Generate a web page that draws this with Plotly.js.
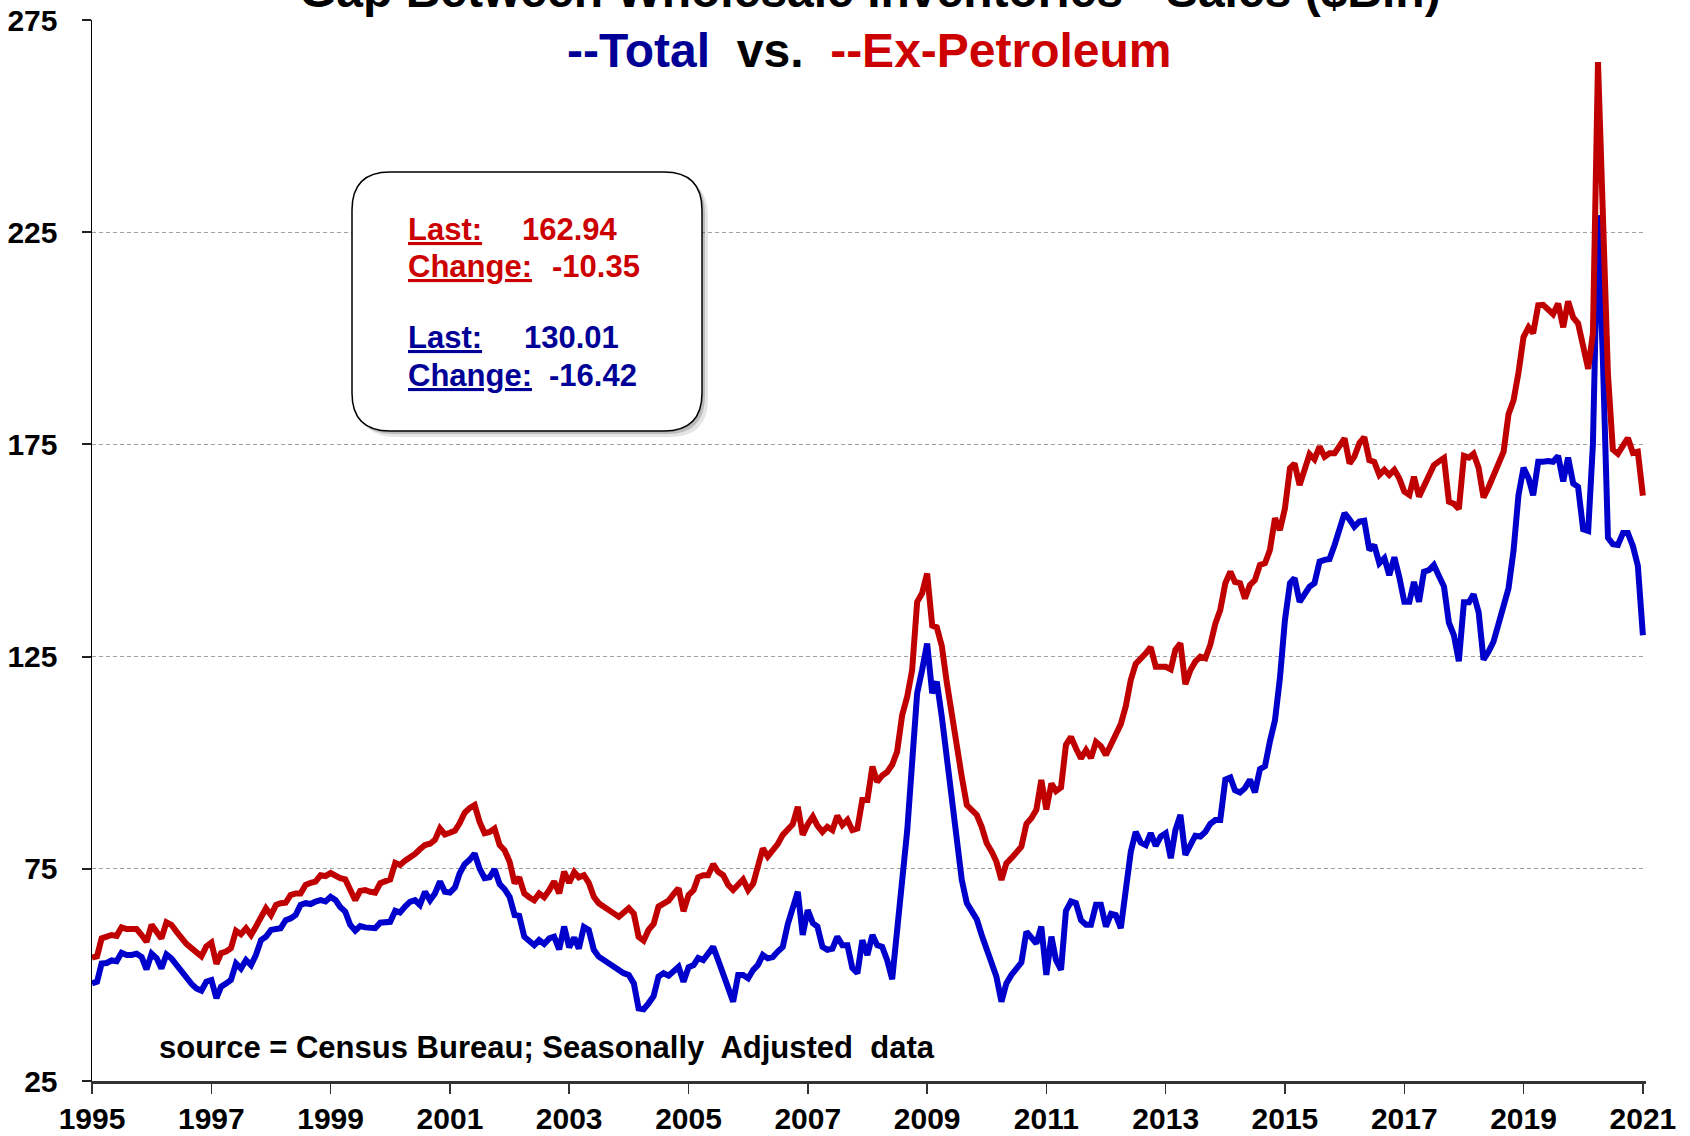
<!DOCTYPE html>
<html>
<head>
<meta charset="utf-8">
<script src="https://cdn.plot.ly/plotly-3.0.1.min.js"></script>
<style>html,body{margin:0;padding:0;background:#fff}#chart{width:1690px;height:1136px}</style>
</head>
<body>
<div id="chart"></div>
<script>
// ---- data (monthly, starting Jan 1995, $Bln) ----
const startYear = 1995;

const exPetroleum = [
  54.1, 54.4, 58.6, 59.0, 59.4, 59.2, 61.2, 60.8, 60.8, 60.8, 59.4, 57.8,   // 1995
  61.8, 60.2, 58.6, 62.4, 61.8, 60.2, 58.6, 57.3, 56.3, 55.5, 54.4, 56.7,   // 1996
  57.6, 52.6, 55.1, 55.5, 56.3, 60.4, 59.6, 61.0, 59.4, 61.4, 63.7, 65.7,   // 1997
  64.1, 66.5, 66.9, 67.0, 68.8, 69.2, 69.2, 71.2, 71.7, 72.0, 73.5, 73.3,   // 1998
  74.0, 73.3, 72.8, 72.5, 70.0, 67.6, 69.8, 70.0, 69.6, 69.4, 71.6, 72.0,   // 1999
  72.5, 76.4, 75.9, 76.9, 77.5, 78.5, 79.6, 80.6, 80.9, 81.8, 84.5, 83.1,   // 2000
  83.5, 84.0, 85.7, 88.2, 89.3, 90.0, 86.1, 83.4, 83.7, 84.5, 80.6, 79.4,   // 2001
  76.7, 71.6, 73.0, 69.2, 68.3, 67.6, 69.2, 68.3, 70.0, 72.0, 69.2, 74.3,   // 2002
  71.7, 74.2, 73.0, 73.5, 71.7, 68.4, 66.9, 66.2, 65.3, 64.5, 63.7, 64.5,   // 2003
  65.7, 64.4, 59.0, 58.1, 60.6, 62.0, 66.1, 66.8, 67.5, 69.0, 70.4, 65.0,   // 2004
  68.8, 70.0, 73.0, 73.5, 73.5, 76.1, 74.3, 73.5, 71.2, 70.0, 71.4, 72.5,   // 2005
  70.0, 71.5, 75.5, 79.8, 77.9, 79.5, 80.8, 83.0, 84.1, 85.5, 89.6, 83.0,   // 2006
  85.5, 87.3, 85.2, 83.7, 84.9, 84.1, 87.5, 85.3, 86.5, 84.1, 84.5, 91.2,   // 2007
  91.2, 99.1, 95.5, 97.0, 97.8, 99.5, 102.6, 111.2, 115.6, 121.8, 137.9, 139.9, // 2008
  144.6, 132.3, 131.9, 127.5, 119.0, 110.8, 103.0, 96.7, 90.0, 88.9, 87.7, 84.9, // 2009
  81.0, 79.0, 76.7, 72.4, 76.3, 77.5, 78.9, 80.2, 85.6, 86.9, 88.9, 95.9,   // 2010
  89.0, 95.1, 93.3, 94.2, 104.2, 106.1, 103.4, 101.0, 103.0, 101.1, 104.9, 103.9, // 2011
  101.8, 104.3, 106.8, 109.1, 113.2, 119.5, 123.3, 124.4, 125.8, 127.2, 122.6, 122.6, // 2012
  122.6, 122.0, 126.6, 128.1, 118.5, 121.8, 123.8, 125.0, 124.6, 127.8, 132.8, 136.0, // 2013
  142.3, 145.0, 142.6, 142.3, 138.7, 141.9, 143.0, 146.6, 147.0, 150.1, 157.6, 154.8, // 2014
  159.9, 169.4, 170.5, 165.4, 169.0, 172.7, 171.5, 174.5, 172.1, 172.9, 172.9, 174.9, // 2015
  176.4, 170.5, 172.1, 175.3, 176.7, 171.3, 170.9, 167.8, 169.0, 167.8, 169.0, 167.0, // 2016
  163.9, 163.1, 167.4, 162.7, 165.4, 168.2, 170.1, 171.0, 171.8, 161.5, 161.0, 159.8, // 2017
  172.3, 171.9, 172.8, 169.5, 162.5, 164.9, 167.7, 170.5, 173.3, 182.1, 185.4, 191.9, // 2018
  200.3, 202.6, 201.2, 207.8, 207.9, 206.8, 205.7, 208.2, 202.6, 208.7, 204.9, 203.5, // 2019
  198.4, 192.8, 201.2, 265.1, 229.0, 191.5, 173.8, 172.8, 174.7, 176.5, 173.0, 173.29, // 2020
  162.94                                                                      // 2021
];

const total = [
  48.0, 48.4, 52.7, 52.8, 53.4, 53.2, 55.2, 54.7, 54.7, 55.0, 54.2, 51.3,   // 1995
  55.0, 53.9, 51.5, 54.8, 53.9, 52.3, 50.8, 49.2, 47.9, 46.8, 46.3, 48.4,   // 1996
  48.8, 44.5, 47.2, 48.0, 48.8, 52.7, 51.5, 53.5, 52.3, 54.7, 58.2, 59.0,   // 1997
  60.6, 60.8, 61.0, 62.9, 63.3, 64.1, 66.5, 66.9, 66.7, 67.3, 67.6, 67.3,   // 1998
  68.4, 67.6, 66.0, 64.9, 61.8, 60.4, 61.5, 61.2, 61.0, 61.0, 62.3, 62.5,   // 1999
  62.5, 65.1, 64.7, 66.1, 67.2, 67.6, 66.5, 69.6, 67.6, 69.2, 72.0, 69.6,   // 2000
  69.4, 70.6, 73.9, 76.1, 77.1, 78.6, 75.1, 72.8, 73.0, 74.9, 71.4, 70.2,   // 2001
  68.4, 64.1, 63.9, 59.0, 57.8, 57.0, 58.2, 57.3, 58.6, 59.0, 56.0, 61.4,   // 2002
  56.5, 58.8, 56.2, 61.3, 60.6, 55.9, 54.3, 53.5, 52.7, 51.6, 50.8, 50.4,   // 2003
  50.0, 48.0, 42.1, 41.9, 43.3, 45.0, 49.6, 50.4, 49.8, 50.8, 51.9, 48.4,   // 2004
  51.8, 52.3, 54.0, 53.5, 55.0, 56.6, 53.5, 50.0, 46.5, 43.7, 50.0, 50.0,   // 2005
  49.2, 51.2, 52.3, 54.7, 53.9, 54.2, 55.5, 56.6, 62.0, 66.0, 69.6, 59.4,   // 2006
  65.3, 62.2, 61.4, 56.6, 55.9, 56.2, 59.0, 57.0, 57.0, 51.6, 50.4, 58.2,   // 2007
  54.7, 59.4, 57.0, 56.6, 53.5, 49.0, 60.0, 71.0, 84.0, 100.0, 116.4, 121.8, // 2008
  128.1, 116.4, 119.1, 110.8, 100.6, 90.4, 80.2, 72.4, 66.9, 64.9, 63.1, 59.4, // 2009
  56.3, 53.1, 49.6, 43.7, 48.0, 50.0, 51.2, 52.9, 60.2, 59.0, 57.4, 61.4,   // 2010
  50.0, 59.0, 53.5, 51.2, 65.1, 67.3, 66.9, 62.9, 61.8, 61.8, 66.5, 66.5,   // 2011
  61.4, 64.4, 64.1, 61.0, 69.2, 79.0, 83.7, 81.2, 80.6, 83.4, 80.4, 82.6,   // 2012
  83.4, 77.5, 84.1, 87.7, 78.3, 81.0, 82.8, 82.6, 83.7, 85.6, 86.5, 86.5,   // 2013
  96.0, 96.5, 93.5, 93.0, 94.0, 96.0, 93.0, 98.5, 99.2, 105.0, 110.0, 119.8, // 2014
  133.6, 142.3, 143.5, 137.9, 139.9, 141.5, 142.3, 147.4, 147.8, 148.0, 151.3, 154.8, // 2015
  158.8, 157.3, 155.6, 156.8, 157.0, 150.1, 151.3, 147.0, 148.2, 144.2, 148.4, 143.8, // 2016
  137.9, 137.9, 142.6, 137.9, 145.0, 145.4, 146.6, 144.0, 141.5, 133.0, 130.0, 123.9, // 2017
  137.8, 137.8, 139.7, 135.5, 124.3, 126.2, 128.5, 132.7, 136.9, 141.1, 150.0, 163.0, // 2018
  169.5, 167.0, 163.0, 170.9, 170.9, 171.1, 170.9, 172.3, 166.3, 171.9, 165.8, 165.0, // 2019
  155.0, 154.6, 175.1, 229.0, 195.0, 153.0, 151.5, 151.3, 154.1, 154.1, 151.0, 146.43, // 2020
  130.01                                                                      // 2021
];

const xTickLabels = ['1995','1997','1999','2001','2003','2005','2007','2009','2011','2013','2015','2017','2019','2021'];
const yTickValues = [25, 75, 125, 175, 225, 275];

const titleLine1 = 'Gap Between Wholesale Inventories - Sales ($Bln)';
const sourceNote = 'source = Census Bureau; Seasonally  Adjusted  data';

// ---- layout helpers ----
const W = 1690, H = 1136, ML = 92, MR = 44, MT = 20, MB = 55;
const PW = W - ML - MR, PH = H - MT - MB;
const xp = px => (px - ML) / PW;
const yp = py => (H - MB - py) / PH;
const FONT = 'Liberation Sans, Arial, Helvetica, sans-serif';
const RED = '#C00000', BLUE = '#0000CC', NAVY = '#000096', TRED = '#CC0000';

const dates = exPetroleum.map((_, i) => {
  const y = startYear + Math.floor(i / 12), m = (i % 12) + 1;
  return y + '-' + String(m).padStart(2, '0') + '-01';
});
const tickDates = xTickLabels.map(y => y + '-01-01');

function roundRect(x0, y0, x1, y1, r) {
  const X = v => xp(v).toFixed(5), Y = v => yp(v).toFixed(5);
  return 'M' + X(x0 + r) + ',' + Y(y0) + ' L' + X(x1 - r) + ',' + Y(y0) +
    ' Q' + X(x1) + ',' + Y(y0) + ' ' + X(x1) + ',' + Y(y0 + r) +
    ' L' + X(x1) + ',' + Y(y1 - r) +
    ' Q' + X(x1) + ',' + Y(y1) + ' ' + X(x1 - r) + ',' + Y(y1) +
    ' L' + X(x0 + r) + ',' + Y(y1) +
    ' Q' + X(x0) + ',' + Y(y1) + ' ' + X(x0) + ',' + Y(y1 - r) +
    ' L' + X(x0) + ',' + Y(y0 + r) +
    ' Q' + X(x0) + ',' + Y(y0) + ' ' + X(x0 + r) + ',' + Y(y0) + ' Z';
}

const lastRed = exPetroleum[exPetroleum.length - 1];
const chRed = lastRed - exPetroleum[exPetroleum.length - 2];
const lastBlue = total[total.length - 1];
const chBlue = lastBlue - total[total.length - 2];

const traces = [
  { x: dates, y: total, type: 'scatter', mode: 'lines', name: 'Total',
    line: { color: BLUE, width: 6, shape: 'linear' }, hoverinfo: 'skip' },
  { x: dates, y: exPetroleum, type: 'scatter', mode: 'lines', name: 'Ex-Petroleum',
    line: { color: RED, width: 6, shape: 'linear' }, hoverinfo: 'skip' }
];

const bx0 = 352, by0 = 172, bx1 = 702, by1 = 431, br = 38;
const shapes = [
  { type: 'path', xref: 'paper', yref: 'paper', layer: 'above', path: roundRect(bx0 + 6, by0 + 6, bx1 + 6, by1 + 6, br), fillcolor: 'rgba(0,0,0,0.10)', line: { width: 0 } },
  { type: 'path', xref: 'paper', yref: 'paper', layer: 'above', path: roundRect(bx0 + 3, by0 + 3, bx1 + 3, by1 + 3, br), fillcolor: 'rgba(0,0,0,0.18)', line: { width: 0 } },
  { type: 'path', xref: 'paper', yref: 'paper', layer: 'above', path: roundRect(bx0, by0, bx1, by1, br), fillcolor: '#ffffff', line: { color: '#000000', width: 1.5 } }
];

function txt(text, px, py, size, color, xanchor) {
  return { text: text, xref: 'paper', yref: 'paper', x: xp(px), y: yp(py), xanchor: xanchor || 'left', yanchor: 'middle',
    showarrow: false, font: { family: FONT, size: size, color: color, weight: 700 }, borderpad: 0 };
}

const annotations = [
  Object.assign(txt(titleLine1, 870, 28, 48, '#000000', 'center'), { yanchor: 'bottom', bgcolor: '#ffffff', borderpad: 10 }),
  txt('<span style="color:' + NAVY + '">--Total</span>  vs.  <span style="color:' + TRED + '">--Ex-Petroleum</span>', 870, 50.2, 48, '#000000', 'center'),
  txt(sourceNote, 158, 1047.6, 31, '#000000', 'left'),
  txt('<u>Last:</u>', 407, 229.6, 31, TRED),
  txt(lastRed.toFixed(2), 520.6, 229.6, 31, TRED),
  txt('<u>Change:</u>', 407, 266.2, 31, TRED),
  txt(chRed.toFixed(2), 550.8, 266.2, 31, TRED),
  txt('<u>Last:</u>', 407, 337.4, 31, NAVY),
  txt(lastBlue.toFixed(2), 522.7, 337.4, 31, NAVY),
  txt('<u>Change:</u>', 407, 375.1, 31, NAVY),
  txt(chBlue.toFixed(2), 547.5, 375.1, 31, NAVY)
];

const layout = {
  width: W, height: H,
  margin: { l: ML, r: MR, t: MT, b: MB, pad: 0 },
  paper_bgcolor: '#ffffff', plot_bgcolor: '#ffffff',
  showlegend: false,
  font: { family: FONT, size: 30, color: '#000000', weight: 700 },
  xaxis: {
    type: 'date', range: ['1995-01-01', '2021-01-20'],
    tickmode: 'array', tickvals: tickDates, ticktext: xTickLabels,
    ticks: 'outside', ticklen: 10, tickwidth: 1.5, tickcolor: '#333333',
    showgrid: false, zeroline: false,
    showline: true, linecolor: '#333333', linewidth: 3,
    tickfont: { family: FONT, size: 30, color: '#000000', weight: 700 },
    ticklabelstandoff: -1
  },
  yaxis: {
    range: [25, 275], tickmode: 'array', tickvals: yTickValues, ticktext: yTickValues.map(String),
    ticks: 'outside', ticklen: 9, tickwidth: 2, tickcolor: '#222222',
    showgrid: true, gridcolor: '#a0a0a0', gridwidth: 1.3, griddash: '4px,3px',
    zeroline: false, showline: true, linecolor: '#000000', linewidth: 1.5,
    tickfont: { family: FONT, size: 30, color: '#000000', weight: 700 },
    ticklabelstandoff: 18
  },
  shapes: shapes,
  annotations: annotations
};

Plotly.newPlot('chart', traces, layout, { displayModeBar: false, staticPlot: true });
</script>
</body>
</html>
